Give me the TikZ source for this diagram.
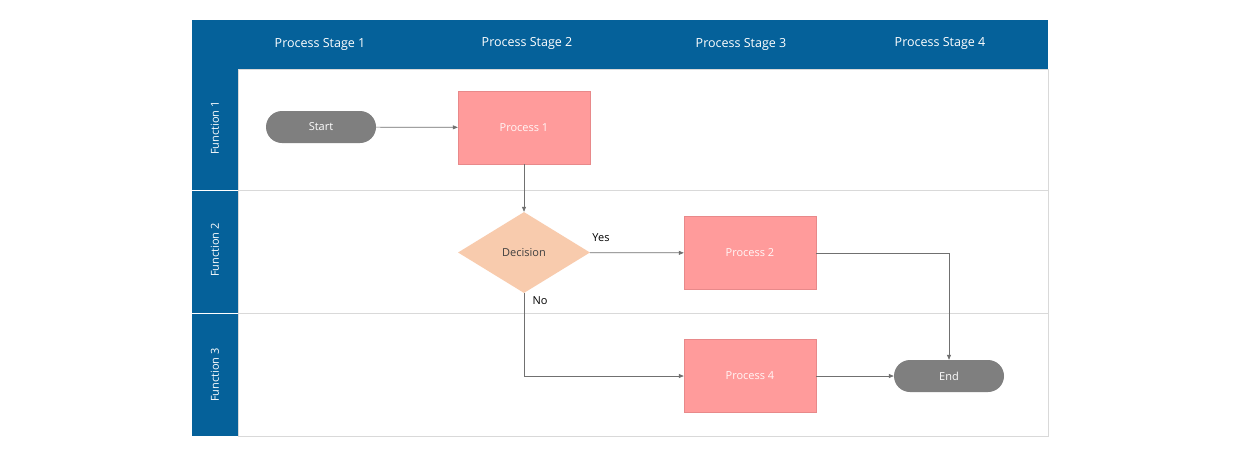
\documentclass[tikz,border=0pt]{standalone}
\usepackage{fontspec}
\setmainfont{Open Sans}
\usetikzlibrary{shapes.geometric,arrows.meta}
\definecolor{hdr}{HTML}{05619A}
\definecolor{proc}{HTML}{FF9B9B}
\definecolor{procb}{HTML}{E8898A}
\definecolor{dec}{HTML}{F8CBAD}
\definecolor{term}{HTML}{7F7F7F}
\definecolor{grid}{HTML}{D9D9D9}
\definecolor{arr}{HTML}{707070}
\begin{document}
\begin{tikzpicture}[x=1pt,y=-1pt,
  hd/.style={text=white,font=\fontsize{12.5}{14}\selectfont},
  fn/.style={text=white,rotate=90,font=\fontsize{11}{13}\selectfont},
  proc/.style={draw=procb,fill=proc,minimum width=132pt,minimum height=73pt,text=white!92!proc,font=\fontsize{11}{13}\selectfont,inner sep=0pt},
  term/.style={fill=term,rounded corners=16pt,minimum width=110pt,minimum height=32pt,text=white,font=\fontsize{11}{13}\selectfont,inner sep=0pt},
  dec/.style={diamond,fill=dec,minimum width=132pt,minimum height=81pt,aspect=1.63,inner sep=0pt,text=black!75,font=\fontsize{11}{13}\selectfont},
  lbl/.style={font=\fontsize{11}{13}\selectfont},
  con/.style={draw=arr,line width=0.7pt,-{Triangle[length=5pt,width=4pt]}}]
\useasboundingbox (0,0) rectangle (1240,464);
\fill[white] (0,0) rectangle (1240,464);
% lanes
\draw[grid] (238,69) rectangle (1048,436);
\draw[grid] (238,190) -- (1048,190);
\draw[grid] (238,313) -- (1048,313);
\fill[hdr] (192,20) rectangle (1048,69);
\fill[hdr] (192,69) rectangle (238,436);
\draw[white,line width=1pt] (192,190) -- (238,190) (192,313) -- (238,313);
\node[hd] (h1) at (320,44) {Process Stage 1};
\node[hd] (h2) at (527,43) {Process Stage 2};
\node[hd] (h3) at (741,44) {Process Stage 3};
\node[hd] (h4) at (940,43) {Process Stage 4};
\node[fn] (f1) at (215,128) {Function 1};
\node[fn] (f2) at (215,250) {Function 2};
\node[fn] (f3) at (215,375) {Function 3};
% shapes
\node[term] (start) at (321,127) {Start};
\node[proc] (p1) at (524,127.5) {Process 1};
\node[dec] (d) at (524,252.5) {Decision};
\node[proc] (p2) at (750,253) {Process 2};
\node[proc] (p4) at (750,376) {Process 4};
\node[term] (end) at (949,376) {End};
\coordinate (c1) at (949,253);
\coordinate (c2) at (524,376);
\draw[con] (start) -- (p1);
\draw[con] (p1) -- (d);
\draw[con] (d) -- (p2);
\draw[con] (p2.east) -- (c1) -- (end.north);
\draw[con] (d.south) -- (c2) -- (p4.west);
\draw[con] (p4) -- (end);
\node[lbl] (yes) at (601,238) {Yes};
\node[lbl] (no) at (540,301) {No};
\end{tikzpicture}
\end{document}
